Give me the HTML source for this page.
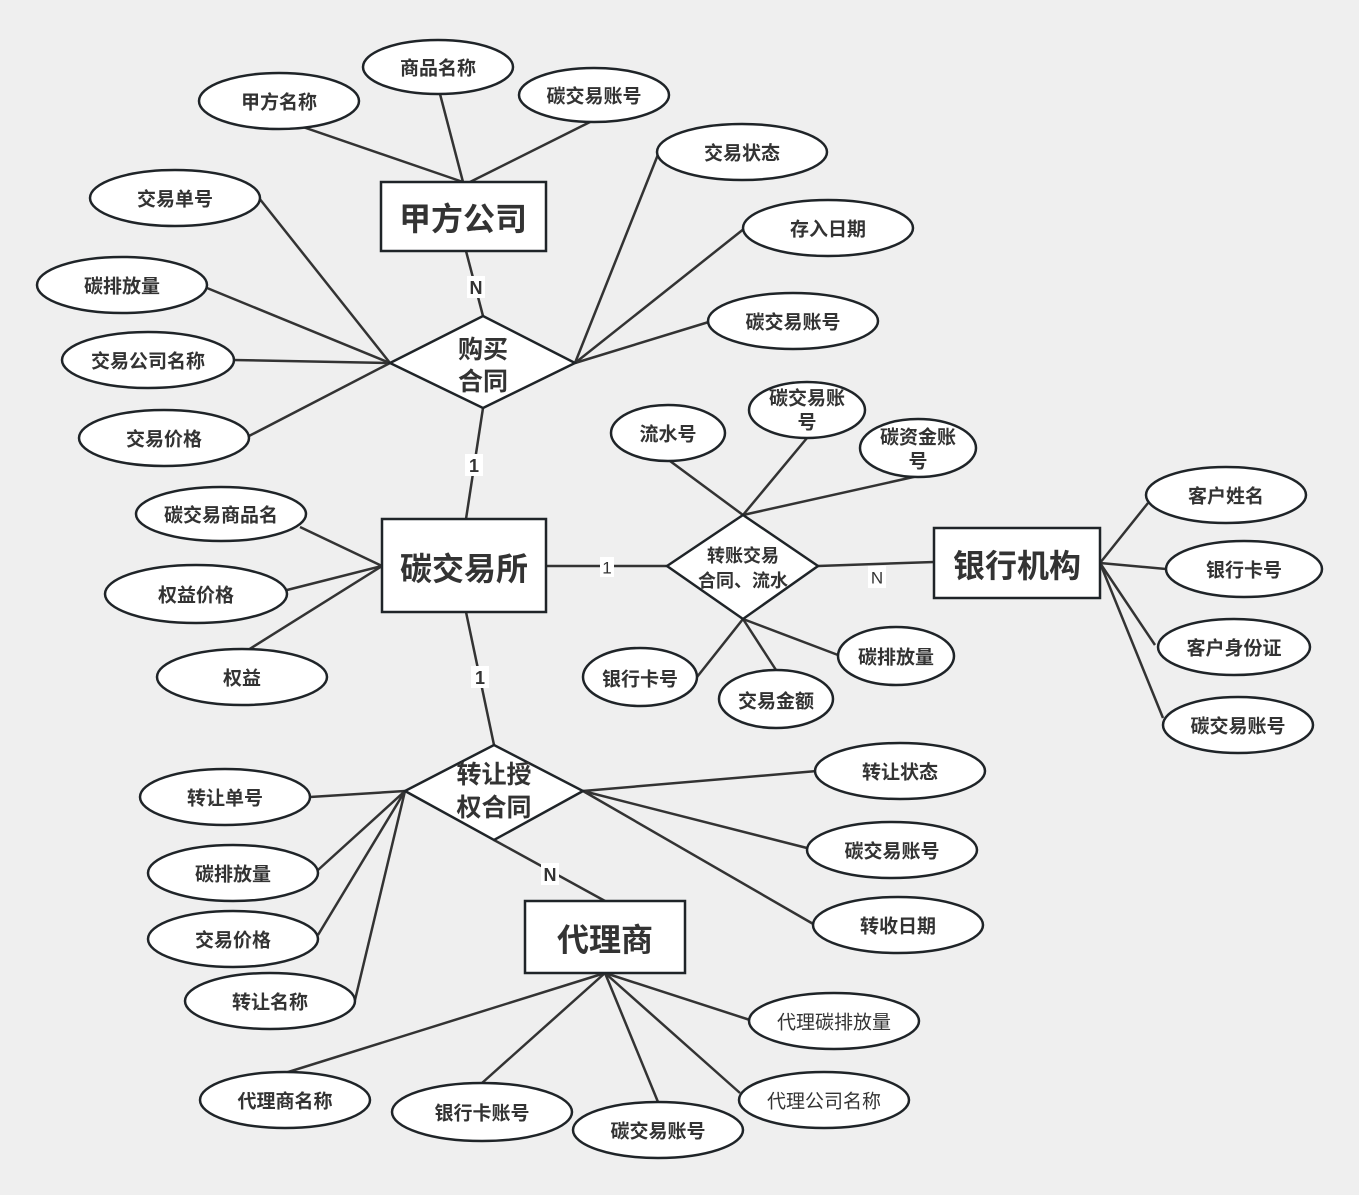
<!DOCTYPE html>
<html><head><meta charset="utf-8"><style>
html,body{margin:0;padding:0;background:#efefef;}
svg{display:block;}
text{font-family:"Liberation Sans","Noto Sans CJK SC",sans-serif;fill:#333;text-anchor:middle;dominant-baseline:central;}
.e{fill:#fff;stroke:#1f2428;stroke-width:2.5;}
.l{stroke:#333;stroke-width:2.5;fill:none;}
.a{font-size:19px;font-weight:bold;}
.n{font-size:19px;font-weight:normal;}
</style></head><body>
<svg width="1359" height="1195" viewBox="0 0 1359 1195" xmlns="http://www.w3.org/2000/svg">
<g class="l">
<line x1="300" y1="126" x2="463" y2="182"/>
<line x1="440" y1="94" x2="463" y2="182"/>
<line x1="592" y1="121" x2="470" y2="182"/>
<line x1="466" y1="251" x2="483" y2="316"/>
<line x1="390" y1="363" x2="259" y2="198"/>
<line x1="390" y1="363" x2="207" y2="288"/>
<line x1="390" y1="363" x2="233" y2="360"/>
<line x1="390" y1="363" x2="249" y2="436"/>
<line x1="575" y1="363" x2="659" y2="152"/>
<line x1="575" y1="363" x2="745" y2="228"/>
<line x1="575" y1="363" x2="712" y2="321"/>
<line x1="483" y1="408" x2="466" y2="519"/>
<line x1="382" y1="566" x2="300" y2="527"/>
<line x1="382" y1="566" x2="287" y2="590"/>
<line x1="382" y1="566" x2="248" y2="650"/>
<line x1="546" y1="566" x2="667" y2="566"/>
<line x1="818" y1="566" x2="934" y2="562"/>
<line x1="743" y1="515" x2="670" y2="461"/>
<line x1="743" y1="515" x2="807" y2="438"/>
<line x1="743" y1="515" x2="918" y2="476"/>
<line x1="743" y1="619" x2="697" y2="677"/>
<line x1="743" y1="619" x2="776" y2="670"/>
<line x1="743" y1="619" x2="838" y2="655"/>
<line x1="1100" y1="563" x2="1148" y2="503"/>
<line x1="1100" y1="563" x2="1166" y2="569"/>
<line x1="1100" y1="563" x2="1155" y2="645"/>
<line x1="1100" y1="563" x2="1163" y2="718"/>
<line x1="466" y1="612" x2="494" y2="745"/>
<line x1="405" y1="791" x2="310" y2="797"/>
<line x1="405" y1="791" x2="318" y2="870"/>
<line x1="405" y1="791" x2="318" y2="935"/>
<line x1="405" y1="791" x2="355" y2="1000"/>
<line x1="583" y1="791" x2="817" y2="771"/>
<line x1="583" y1="791" x2="807" y2="848"/>
<line x1="583" y1="791" x2="815" y2="925"/>
<line x1="494" y1="840" x2="605" y2="901"/>
<line x1="605" y1="973" x2="750" y2="1020"/>
<line x1="605" y1="973" x2="740" y2="1093"/>
<line x1="605" y1="973" x2="658" y2="1102"/>
<line x1="605" y1="973" x2="482" y2="1083"/>
<line x1="605" y1="973" x2="285" y2="1073"/>
</g>
<g>
<rect x="467" y="276" width="18" height="22" fill="#fff"/><text x="476" y="288" style="font-size:18px;font-weight:bold">N</text>
<rect x="465" y="454" width="18" height="22" fill="#fff"/><text x="474" y="466" style="font-size:18px;font-weight:bold">1</text>
<rect x="600" y="557" width="14" height="20" fill="#fff"/><text x="607" y="568" style="font-size:17px">1</text>
<rect x="868" y="566" width="18" height="22" fill="#fff"/><text x="877" y="578" style="font-size:17px">N</text>
<rect x="471" y="666" width="18" height="22" fill="#fff"/><text x="480" y="678" style="font-size:18px;font-weight:bold">1</text>
<rect x="541" y="863" width="18" height="22" fill="#fff"/><text x="550" y="875" style="font-size:18px;font-weight:bold">N</text>
</g>
<rect class="e" x="381" y="182" width="165" height="69"/><text x="463" y="219" style="font-size:32px;font-weight:bold">甲方公司</text>
<rect class="e" x="382" y="519" width="164" height="93"/><text x="464" y="569" style="font-size:32px;font-weight:bold">碳交易所</text>
<rect class="e" x="934" y="528" width="166" height="70"/><text x="1017" y="566" style="font-size:32px;font-weight:bold">银行机构</text>
<rect class="e" x="525" y="901" width="160" height="72"/><text x="605" y="940" style="font-size:32px;font-weight:bold">代理商</text>
<polygon class="e" points="390,363 483,316 575,363 483,408"/>
<text x="483" y="350" style="font-size:25px;font-weight:bold">购买</text><text x="483" y="382" style="font-size:25px;font-weight:bold">合同</text>
<polygon class="e" points="667,566 743,515 818,566 743,619"/>
<text x="743" y="556" style="font-size:18px;font-weight:bold">转账交易</text><text x="743" y="581" style="font-size:18px;font-weight:bold">合同、流水</text>
<polygon class="e" points="405,791 494,745 583,791 494,840"/>
<text x="494" y="775" style="font-size:25px;font-weight:bold">转让授</text><text x="494" y="808" style="font-size:25px;font-weight:bold">权合同</text>
<g transform="translate(0,2)">
<ellipse class="e" cx="279" cy="99" rx="80" ry="28"/><text class="a" x="279" y="101">甲方名称</text>
<ellipse class="e" cx="438" cy="65" rx="75" ry="27"/><text class="a" x="438" y="67">商品名称</text>
<ellipse class="e" cx="594" cy="93" rx="75" ry="27"/><text class="a" x="594" y="95">碳交易账号</text>
<ellipse class="e" cx="742" cy="150" rx="85" ry="28"/><text class="a" x="742" y="152">交易状态</text>
<ellipse class="e" cx="828" cy="226" rx="85" ry="28"/><text class="a" x="828" y="228">存入日期</text>
<ellipse class="e" cx="793" cy="319" rx="85" ry="28"/><text class="a" x="793" y="321">碳交易账号</text>
<ellipse class="e" cx="175" cy="196" rx="85" ry="28"/><text class="a" x="175" y="198">交易单号</text>
<ellipse class="e" cx="122" cy="283" rx="85" ry="28"/><text class="a" x="122" y="285">碳排放量</text>
<ellipse class="e" cx="148" cy="358" rx="86" ry="28"/><text class="a" x="148" y="360">交易公司名称</text>
<ellipse class="e" cx="164" cy="436" rx="85" ry="28"/><text class="a" x="164" y="438">交易价格</text>
<ellipse class="e" cx="221" cy="512" rx="85" ry="27"/><text class="a" x="221" y="514">碳交易商品名</text>
<ellipse class="e" cx="196" cy="592" rx="91" ry="29"/><text class="a" x="196" y="594">权益价格</text>
<ellipse class="e" cx="242" cy="675" rx="85" ry="28"/><text class="a" x="242" y="677">权益</text>
<ellipse class="e" cx="668" cy="431" rx="57" ry="28"/><text class="a" x="668" y="433">流水号</text>
<ellipse class="e" cx="807" cy="408" rx="58" ry="28"/><text class="a" x="807" y="397">碳交易账</text><text class="a" x="807" y="421">号</text>
<ellipse class="e" cx="918" cy="446" rx="58" ry="29"/><text class="a" x="918" y="436">碳资金账</text><text class="a" x="918" y="460">号</text>
<ellipse class="e" cx="640" cy="675" rx="57" ry="29"/><text class="a" x="640" y="678">银行卡号</text>
<ellipse class="e" cx="776" cy="697" rx="57" ry="29"/><text class="a" x="776" y="700">交易金额</text>
<ellipse class="e" cx="896" cy="654" rx="58" ry="29"/><text class="a" x="896" y="656">碳排放量</text>
<ellipse class="e" cx="1226" cy="493" rx="80" ry="28"/><text class="a" x="1226" y="495">客户姓名</text>
<ellipse class="e" cx="1244" cy="567" rx="78" ry="28"/><text class="a" x="1244" y="569">银行卡号</text>
<ellipse class="e" cx="1234" cy="645" rx="76" ry="28"/><text class="a" x="1234" y="647">客户身份证</text>
<ellipse class="e" cx="1238" cy="723" rx="75" ry="28"/><text class="a" x="1238" y="725">碳交易账号</text>
<ellipse class="e" cx="900" cy="769" rx="85" ry="28"/><text class="a" x="900" y="771">转让状态</text>
<ellipse class="e" cx="892" cy="848" rx="85" ry="28"/><text class="a" x="892" y="850">碳交易账号</text>
<ellipse class="e" cx="898" cy="923" rx="85" ry="28"/><text class="a" x="898" y="925">转收日期</text>
<ellipse class="e" cx="225" cy="795" rx="85" ry="28"/><text class="a" x="225" y="797">转让单号</text>
<ellipse class="e" cx="233" cy="871" rx="85" ry="28"/><text class="a" x="233" y="873">碳排放量</text>
<ellipse class="e" cx="233" cy="937" rx="85" ry="28"/><text class="a" x="233" y="939">交易价格</text>
<ellipse class="e" cx="270" cy="999" rx="85" ry="28"/><text class="a" x="270" y="1001">转让名称</text>
<ellipse class="e" cx="834" cy="1019" rx="85" ry="28"/><text class="n" x="834" y="1021">代理碳排放量</text>
<ellipse class="e" cx="824" cy="1098" rx="85" ry="28"/><text class="n" x="824" y="1100">代理公司名称</text>
<ellipse class="e" cx="285" cy="1098" rx="85" ry="28"/><text class="a" x="285" y="1100">代理商名称</text>
<ellipse class="e" cx="482" cy="1110" rx="90" ry="29"/><text class="a" x="482" y="1112">银行卡账号</text>
<ellipse class="e" cx="658" cy="1128" rx="85" ry="28"/><text class="a" x="658" y="1130">碳交易账号</text>
</g>
</svg>
</body></html>
